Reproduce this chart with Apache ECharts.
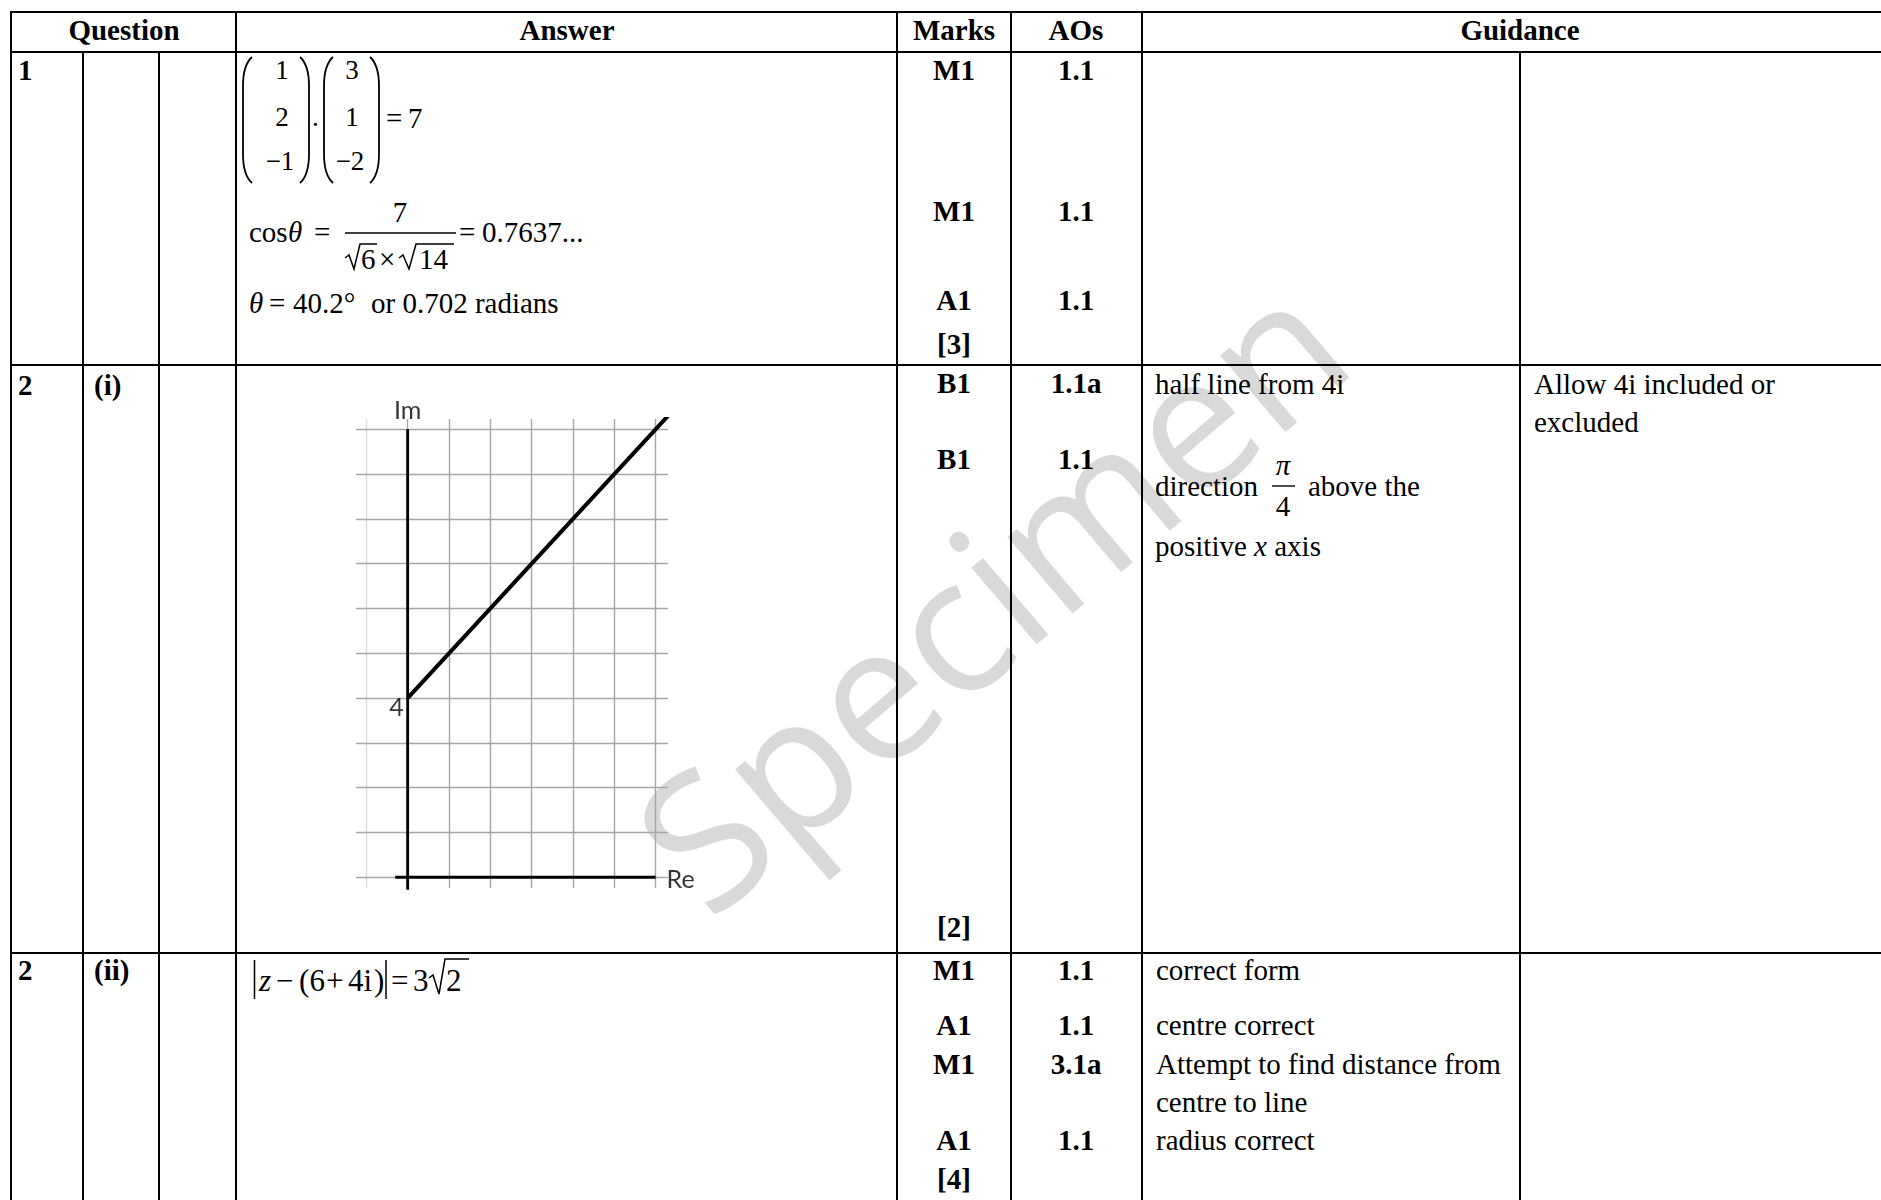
<!DOCTYPE html>
<html>
<head>
<meta charset="utf-8">
<title>Mark scheme 1 - 2</title>
<script src="https://cdn.jsdelivr.net/npm/echarts@6/dist/echarts.min.js"></script>
<style>
body { margin: 0; background: #fff; }
#page { position: relative; width: 1881px; height: 1200px; overflow: hidden;
        font-family: "Liberation Serif", "Times New Roman", serif; color: #000; }
.wm { position: absolute; left: 988px; top: 590px; transform: translate(-50%, -50%) rotate(-40.5deg);
      font-family: "Open Sans", sans-serif; font-size: 188px; line-height: 1; color: #d9d9d9;
      white-space: nowrap; z-index: 0; }
.h { position: absolute; left: 10px; width: 1871px; height: 2px; background: #000; z-index: 2; }
.v { position: absolute; width: 2px; background: #000; z-index: 2; }
.t { position: absolute; font-size: 29px; line-height: 32px; white-space: nowrap; z-index: 3; }
.s { font-size: 27px; line-height: 30px; }
.big { font-size: 31px; line-height: 36px; }
.b { font-weight: bold; }
.c { transform: translateX(-50%); }
#strokes { position: absolute; left: 0; top: 0; z-index: 3; }
#main { position: absolute; left: 300px; top: 380px; width: 440px; height: 540px; z-index: 3; }
</style>
</head>
<body>
<div id="page">
  <div class="wm">Specimen</div>

  <!-- table rules -->
  <div class="h" style="top:11px"></div>
  <div class="h" style="top:51px"></div>
  <div class="h" style="top:364px"></div>
  <div class="h" style="top:952px"></div>
  <div class="v" style="left:10px;top:11px;height:1189px"></div>
  <div class="v" style="left:82px;top:51px;height:1149px"></div>
  <div class="v" style="left:158px;top:51px;height:1149px"></div>
  <div class="v" style="left:235px;top:11px;height:1189px"></div>
  <div class="v" style="left:896px;top:11px;height:1189px"></div>
  <div class="v" style="left:1010px;top:11px;height:1189px"></div>
  <div class="v" style="left:1141px;top:11px;height:1189px"></div>
  <div class="v" style="left:1519px;top:51px;height:1149px"></div>

  <!-- header -->
  <div class="t b c" style="left:124px;top:14px">Question</div>
  <div class="t b c" style="left:567px;top:14px">Answer</div>
  <div class="t b c" style="left:954px;top:14px">Marks</div>
  <div class="t b c" style="left:1076px;top:14px">AOs</div>
  <div class="t b c" style="left:1520px;top:14px">Guidance</div>

  <!-- question 1 -->
  <div class="t b" style="left:18px;top:54px">1</div>
  <div class="t s c" style="left:282px;top:55px">1</div>
  <div class="t s c" style="left:282px;top:102px">2</div>
  <div class="t s c" style="left:280px;top:146px">&minus;1</div>
  <div class="t s" style="left:312px;top:102px">.</div>
  <div class="t s c" style="left:352px;top:55px">3</div>
  <div class="t s c" style="left:352px;top:102px">1</div>
  <div class="t s c" style="left:350px;top:146px">&minus;2</div>
  <div class="t" style="left:386px;top:102px">=</div>
  <div class="t" style="left:408px;top:102px">7</div>

  <div class="t" style="left:249px;top:216px">cos</div>
  <div class="t" style="left:288px;top:216px"><i>&theta;</i></div>
  <div class="t" style="left:314px;top:216px">=</div>
  <div class="t c" style="left:400px;top:196px">7</div>
  <div class="t" style="left:361px;top:243px">6</div>
  <div class="t" style="left:379px;top:243px">&times;</div>
  <div class="t" style="left:419px;top:243px">14</div>
  <div class="t" style="left:459px;top:216px">=</div>
  <div class="t" style="left:482px;top:216px">0.7637...</div>

  <div class="t" style="left:249px;top:287px"><i>&theta;</i></div>
  <div class="t" style="left:269px;top:287px">=</div>
  <div class="t" style="left:293px;top:287px">40.2&deg;</div>
  <div class="t" style="left:371px;top:287px">or 0.702 radians</div>

  <div class="t b c" style="left:954px;top:54px">M1</div>
  <div class="t b c" style="left:1076px;top:54px">1.1</div>
  <div class="t b c" style="left:954px;top:195px">M1</div>
  <div class="t b c" style="left:1076px;top:195px">1.1</div>
  <div class="t b c" style="left:954px;top:284px">A1</div>
  <div class="t b c" style="left:1076px;top:284px">1.1</div>
  <div class="t b c" style="left:954px;top:328px">[3]</div>

  <!-- question 2 (i) -->
  <div class="t b" style="left:18px;top:369px">2</div>
  <div class="t b" style="left:94px;top:369px">(i)</div>
  <div class="t b c" style="left:954px;top:367px">B1</div>
  <div class="t b c" style="left:1076px;top:367px">1.1a</div>
  <div class="t b c" style="left:954px;top:443px">B1</div>
  <div class="t b c" style="left:1076px;top:443px">1.1</div>
  <div class="t b c" style="left:954px;top:911px">[2]</div>
  <div class="t" style="left:1155px;top:368px">half line from 4i</div>
  <div class="t" style="left:1155px;top:470px">direction</div>
  <div class="t c" style="left:1283px;top:449px"><i>&pi;</i></div>
  <div class="t c" style="left:1283px;top:490px">4</div>
  <div class="t" style="left:1308px;top:470px">above the</div>
  <div class="t" style="left:1155px;top:530px">positive <i>x</i> axis</div>
  <div class="t" style="left:1534px;top:368px">Allow 4i included or</div>
  <div class="t" style="left:1534px;top:406px">excluded</div>

  <!-- question 2 (ii) -->
  <div class="t b" style="left:18px;top:954px">2</div>
  <div class="t b" style="left:94px;top:954px">(ii)</div>
  <div class="t big" style="left:259px;top:963px"><i>z</i></div>
  <div class="t big" style="left:276px;top:963px">&minus;</div>
  <div class="t big" style="left:299px;top:963px">(</div>
  <div class="t big" style="left:309.5px;top:963px">6</div>
  <div class="t big" style="left:326px;top:963px">+</div>
  <div class="t big" style="left:348px;top:963px">4i</div>
  <div class="t big" style="left:374px;top:963px">)</div>
  <div class="t big" style="left:391px;top:963px">=</div>
  <div class="t big" style="left:413px;top:963px">3</div>
  <div class="t big" style="left:446px;top:963px">2</div>

  <div class="t b c" style="left:954px;top:954px">M1</div>
  <div class="t b c" style="left:1076px;top:954px">1.1</div>
  <div class="t b c" style="left:954px;top:1009px">A1</div>
  <div class="t b c" style="left:1076px;top:1009px">1.1</div>
  <div class="t b c" style="left:954px;top:1048px">M1</div>
  <div class="t b c" style="left:1076px;top:1048px">3.1a</div>
  <div class="t b c" style="left:954px;top:1124px">A1</div>
  <div class="t b c" style="left:1076px;top:1124px">1.1</div>
  <div class="t b c" style="left:954px;top:1163px">[4]</div>
  <div class="t" style="left:1156px;top:954px">correct form</div>
  <div class="t" style="left:1156px;top:1009px">centre correct</div>
  <div class="t" style="left:1156px;top:1048px">Attempt to find distance from</div>
  <div class="t" style="left:1156px;top:1086px">centre to line</div>
  <div class="t" style="left:1156px;top:1124px">radius correct</div>

  <!-- brackets, fraction bars and radicals of the equations -->
  <svg id="strokes" width="1881" height="1200" fill="none" stroke="#000" stroke-width="1.8">
    <path d="M252 57 Q243 65 243 86 L243 154 Q243 175 252 183"/>
    <path d="M300 57 Q309 65 309 86 L309 154 Q309 175 300 183"/>
    <path d="M333 57 Q324 65 324 86 L324 154 Q324 175 333 183"/>
    <path d="M370 57 Q379 65 379 86 L379 154 Q379 175 370 183"/>
    <path d="M345 233 L456 233" stroke-width="1.6"/>
    <path d="M345 258 L349 255 L354 269 L360 244 L377 244" stroke-width="1.5"/>
    <path d="M399 258 L403 255 L409 269 L416 244 L454 244" stroke-width="1.5"/>
    <path d="M1272 486 L1295 486" stroke-width="1.4"/>
    <path d="M254.5 960 L254.5 999" stroke-width="1.5"/>
    <path d="M386 960 L386 999" stroke-width="1.5"/>
    <path d="M429 978 L433 975 L439 994 L445 959 L469 959" stroke-width="1.5"/>
  </svg>

  <div id="main"></div>
</div>

<script>
// Argand diagram: half line arg(z - 4i) = pi/4
var reTicks = [-1, 0, 1, 2, 3, 4, 5, 6];
var imTicks = [0, 1, 2, 3, 4, 5, 6, 7, 8, 9, 10];
var reRange = [-1.25, 6.3];
var imRange = [-0.24, 10.23];
var reAxisLine = [[-0.3, 0], [6, 0]];
var imAxisLine = [[0, -0.28], [0, 10]];
var halfLine = [[0, 4], [6.3, 10.3]];
var axisNames = ['Im', '4', 'Re'];
var axisNamePoints = [[0, 10], [0, 4], [6, 0]];

var chartDom = document.getElementById('main');
var myChart = echarts.init(chartDom);
var option;

var gridLines = [];
reTicks.forEach(function (v) {
    var item = { xAxis: v };
    if (v === reTicks[0]) {
        item.lineStyle = { color: '#dcdcdc' };
    }
    gridLines.push(item);
});
imTicks.forEach(function (v) {
    gridLines.push({ yAxis: v });
});

var labelPos = {
    'Im': { position: 'top', distance: 5 },
    '4': { position: 'left', distance: 4, offset: [0, 10] },
    'Re': { position: 'right', distance: 11, offset: [0, 3] }
};

var nameData = axisNames.map(function (name, i) {
    return {
        value: axisNamePoints[i],
        label: Object.assign({ show: true, formatter: name, color: '#000' }, labelPos[name])
    };
});

option = {
    animation: false,
    grid: { left: 56, top: 39, width: 312, height: 469 },
    xAxis: { type: 'value', min: reRange[0], max: reRange[1], show: false },
    yAxis: { type: 'value', min: imRange[0], max: imRange[1], show: false },
    series: [{
        type: 'line',
        data: [],
        z: 1,
        markLine: {
            z: 1,
            silent: true,
            symbol: ['none', 'none'],
            label: { show: false },
            lineStyle: { color: '#a6a6a6', width: 1.4, type: 'solid' },
            data: gridLines
        }
    }, {
        type: 'line',
        data: reAxisLine,
        z: 3,
        symbol: 'none',
        clip: false,
        lineStyle: { color: '#000', width: 2.8 }
    }, {
        type: 'line',
        data: imAxisLine,
        z: 3,
        symbol: 'none',
        clip: false,
        lineStyle: { color: '#000', width: 2.8 }
    }, {
        type: 'line',
        data: halfLine,
        z: 4,
        symbol: 'none',
        clip: true,
        lineStyle: { color: '#000', width: 4 }
    }, {
        type: 'scatter',
        data: nameData,
        z: 5,
        symbolSize: 0,
        clip: false,
        silent: true,
        label: {
            color: '#000',
            fontFamily: 'Lato, "Open Sans", sans-serif',
            fontSize: 25,
            lineHeight: 26
        }
    }]
};

option && myChart.setOption(option);
</script>
</body>
</html>
